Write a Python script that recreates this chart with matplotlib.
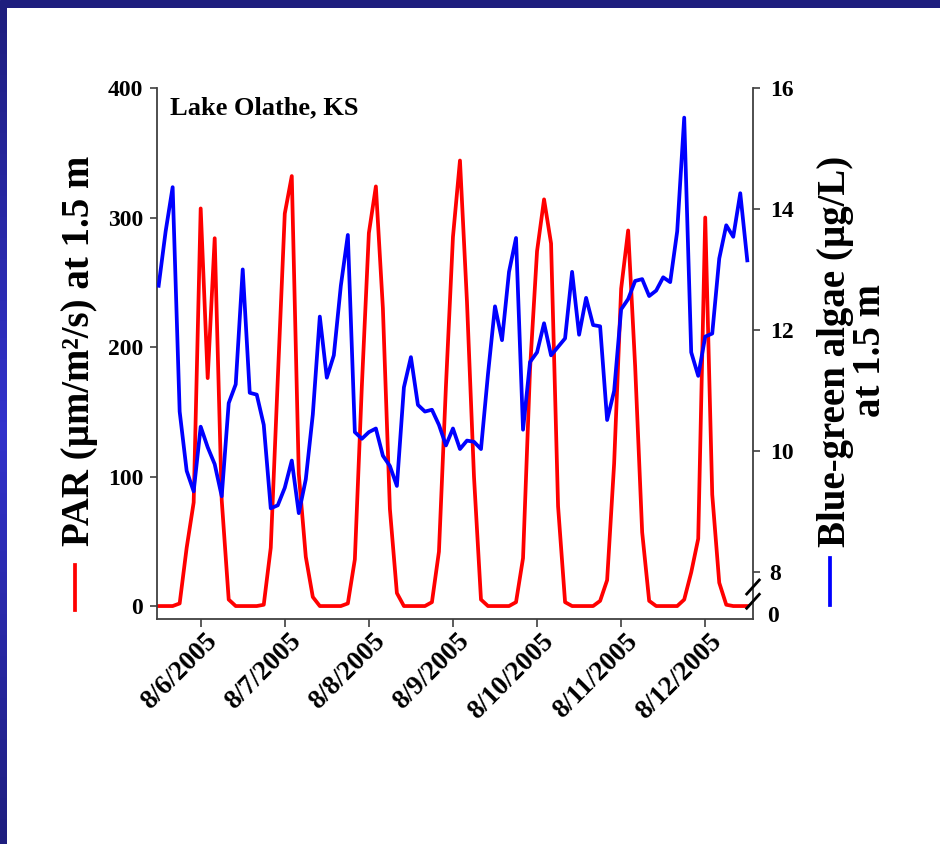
import numpy as np
import matplotlib
matplotlib.use("Agg")
import matplotlib.pyplot as plt
import matplotlib.dates as mdates
import matplotlib.transforms as mtransforms
from matplotlib.lines import Line2D
from matplotlib.colors import LinearSegmentedColormap

# ---------------- data ----------------
start_time = "2005-08-05T12:00"
step_hours = 2

par_values = [0, 0, 0, 2, 45, 80, 307, 176, 284, 82, 5, 0,
              0, 0, 0, 1, 45, 175, 303, 332, 102, 38, 7, 0,
              0, 0, 0, 2, 36, 170, 288, 324, 230, 75, 10, 0,
              0, 0, 0, 3, 42, 170, 285, 344, 235, 100, 5, 0,
              0, 0, 0, 3, 37, 183, 274, 314, 280, 77, 3, 0,
              0, 0, 0, 4, 20, 110, 245, 290, 185, 57, 4, 0,
              0, 0, 0, 5, 26, 52, 300, 86, 18, 1, 0, 0, 0]

algae_values = [12.73, 13.63, 14.36, 10.65, 9.67, 9.33, 10.40, 10.06, 9.78, 9.25, 10.79, 11.10,
                13.00, 10.96, 10.93, 10.43, 9.05, 9.10, 9.39, 9.84, 8.97, 9.53, 10.60, 12.22,
                11.21, 11.58, 12.73, 13.57, 10.31, 10.20, 10.31, 10.37, 9.92, 9.75, 9.42, 11.05,
                11.55, 10.76, 10.65, 10.68, 10.43, 10.09, 10.37, 10.03, 10.17, 10.15, 10.03, 11.27,
                12.39, 11.83, 12.96, 13.52, 10.35, 11.47, 11.63, 12.11, 11.58, 11.72, 11.86, 12.96,
                11.92, 12.53, 12.08, 12.06, 10.51, 10.99, 12.34, 12.51, 12.81, 12.84, 12.56, 12.65,
                12.87, 12.79, 13.63, 15.51, 11.63, 11.24, 11.89, 11.94, 13.18, 13.73, 13.54, 14.26,
                13.15]

date_ticks = ["2005-08-06", "2005-08-07", "2005-08-08", "2005-08-09",
              "2005-08-10", "2005-08-11", "2005-08-12"]
date_labels = ["8/6/2005", "8/7/2005", "8/8/2005", "8/9/2005",
               "8/10/2005", "8/11/2005", "8/12/2005"]

left_ticks = [0, 100, 200, 300, 400]
right_ticks = [8, 10, 12, 14, 16]
right_labels = ["8", "10", "12", "14", "16"]

title_text = "Lake Olathe, KS"
left_label = "PAR (\u00b5m/m\u00b2/s) at 1.5 m"
right_label = "Blue-green algae (\u00b5g/L)\nat 1.5 m"

# ---------------- style ----------------
plt.rcParams['font.family'] = ['Liberation Serif', 'DejaVu Serif']
plt.rcParams['font.weight'] = 'bold'

W, H = 940, 844
fig = plt.figure(figsize=(W / 100, H / 100), dpi=100)
fig.patch.set_facecolor('white')

# slide border (top band and left gradient strip)
top_ax = fig.add_axes([0, 1 - 8 / H, 1, 8 / H])
top_ax.set_axis_off()
top_ax.add_patch(plt.Rectangle((0, 0), 1, 1, color='#1e1e7e', transform=top_ax.transAxes))
left_ax = fig.add_axes([0, 0, 7 / W, 1 - 8 / H])
left_ax.set_axis_off()
grad = np.abs(np.linspace(-1, 1, 200))[:, None]
cmap = LinearSegmentedColormap.from_list('b', ['#3232cc', '#1e1e7e'])
left_ax.imshow(grad, aspect='auto', cmap=cmap, extent=[0, 1, 0, 1])

# main axes
L, R, T, B = 157, 753, 88, 619
ax = fig.add_axes([L / W, 1 - B / H, (R - L) / W, (B - T) / H])
ax2 = ax.twinx()

times = np.datetime64(start_time) + np.arange(len(par_values)) * np.timedelta64(step_hours, 'h')
times = times.astype('datetime64[m]').astype(object)

ax.plot(times, par_values, color='#ff0000', lw=2.7, zorder=2)
ax2.plot(times, algae_values, color='#0000ff', lw=2.7, zorder=3)

ax.set_xlim(mdates.datestr2num("2005-08-05 11:32"), mdates.datestr2num("2005-08-12 13:38"))
ax.set_ylim(-10, 400)
ax2.set_ylim(7.22, 16)

spine_color = '#404040'
for a in (ax, ax2):
    a.spines['top'].set_visible(False)
    for s in a.spines.values():
        s.set_color(spine_color)
        s.set_linewidth(1.3)
ax.spines['right'].set_visible(False)
ax2.spines['left'].set_visible(False)
ax2.spines['bottom'].set_visible(False)

ax.set_yticks(left_ticks)
ax.set_yticklabels([str(v) for v in left_ticks])
ax.tick_params(axis='y', direction='out', length=5, width=1.2, color=spine_color,
               labelsize=17, pad=5)
ax2.set_yticks(right_ticks)
ax2.set_yticklabels(right_labels)
ax2.tick_params(axis='y', direction='out', length=5, width=1.2, color=spine_color,
                labelsize=17, pad=7)

ax.set_xticks([mdates.datestr2num(d) for d in date_ticks])
ax.set_xticklabels(date_labels, rotation=45, ha='right', va='top', rotation_mode='anchor')
ax.tick_params(axis='x', direction='out', length=6, width=1.2, color=spine_color,
               labelsize=19.5, pad=1)
shift = mtransforms.ScaledTranslation(4 / 100, 0, fig.dpi_scale_trans)
for lbl in ax.get_xticklabels():
    lbl.set_transform(lbl.get_transform() + shift)

for lbl in ax.get_yticklabels() + ax2.get_yticklabels() + ax.get_xticklabels():
    lbl.set_fontweight('bold')

# broken-axis "0" label and break marks
fig.text(767 / W, 1 - 616 / H, "0", ha='left', va='center', fontsize=17, fontweight='bold')
for y0 in (608.3, 594.0):
    fig.add_artist(Line2D([746.7 / W, 759.3 / W], [1 - y0 / H, 1 - (y0 - 14) / H],
                          color='black', lw=2))

# in-plot title
fig.text(170 / W, 1 - 108 / H, title_text, fontsize=19,
         fontweight='bold', ha='left', va='center')

# axis labels with line keys
fig.text(80 / W, 1 - 351 / H, left_label, rotation=90, ha='center', va='center',
         fontsize=28, fontweight='bold')
fig.add_artist(Line2D([75 / W, 75 / W], [1 - 565 / H, 1 - 610 / H], color='#ff0000', lw=2.7))
fig.text(853 / W, 1 - 351 / H, right_label, rotation=90, ha='center', va='center',
         fontsize=28, fontweight='bold', multialignment='center', linespacing=0.9)
fig.add_artist(Line2D([830 / W, 830 / W], [1 - 558 / H, 1 - 605 / H], color='#0000ff', lw=2.7))

fig.savefig("out.png", dpi=100, facecolor='white')
